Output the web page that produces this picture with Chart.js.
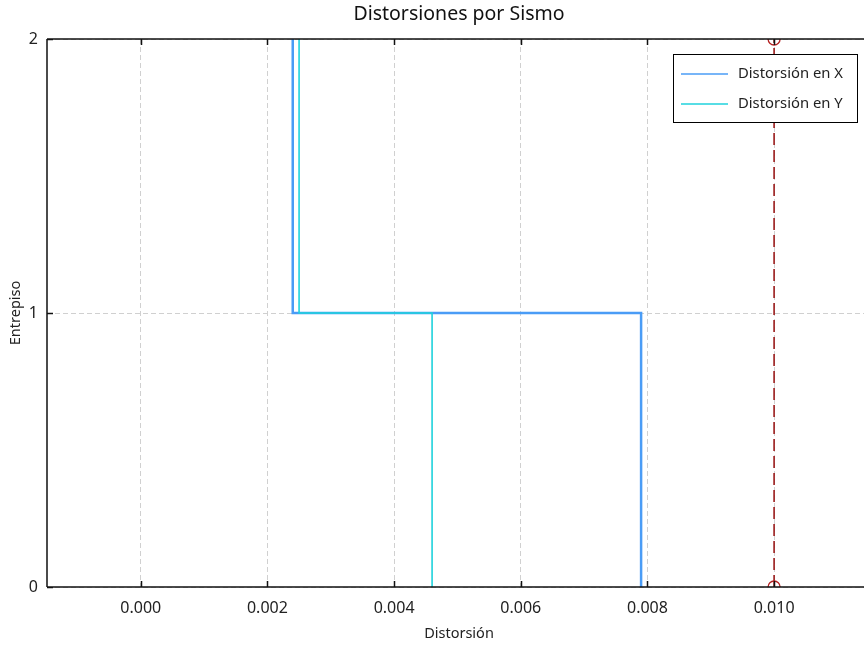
<!DOCTYPE html>
<html>
<head>
<meta charset="utf-8">
<script src="https://cdn.jsdelivr.net/npm/chart.js@4"></script>
<style>
  html, body { margin: 0; padding: 0; background: #fff; overflow: hidden; }
  #wrap { width: 864px; height: 645px; overflow: hidden; }
  canvas { display: block; }
</style>
</head>
<body>
<div id="wrap"><canvas id="c" width="880" height="645"></canvas></div>
<script>
// Story levels (0 = base) and the drift of each story (story i spans level i to i+1)
const levels = [0, 1, 2];
const driftX = [0.0079, 0.0024];
const driftY = [0.0046, 0.0025];
// Allowable drift limit
const driftLimit = 0.010;

const xTickValues = [0.000, 0.002, 0.004, 0.006, 0.008, 0.010];
const yTickValues = [0, 1, 2];
const xMin = -0.00148, xMax = 0.01153;

// Build a stepped profile: vertical segment per story, joined horizontally at each floor
function stepProfile(drifts) {
  const pts = [];
  for (let i = drifts.length - 1; i >= 0; i--) {
    pts.push({ x: drifts[i], y: levels[i + 1] });
    pts.push({ x: drifts[i], y: levels[i] });
  }
  return pts;
}

const FONT = "'Noto Sans', 'DejaVu Sans', sans-serif";
const TXT = '#222';

// Outer frame lines, inward tick marks and the boxed legend
const framePlugin = {
  id: 'frame',
  afterDatasetsDraw(chart) {
    const { ctx, chartArea: a, scales } = chart;
    ctx.save();
    ctx.strokeStyle = '#111';
    ctx.lineWidth = 1.5;
    ctx.beginPath();
    ctx.moveTo(a.left, a.top); ctx.lineTo(a.right + 2, a.top);
    ctx.moveTo(a.left, a.top); ctx.lineTo(a.left, a.bottom);
    ctx.moveTo(a.left, a.bottom); ctx.lineTo(a.right + 2, a.bottom);
    const tl = 6;
    xTickValues.forEach(v => {
      const px = Math.round(scales.x.getPixelForValue(v)) + 0.5;
      ctx.moveTo(px, a.bottom); ctx.lineTo(px, a.bottom - tl);
      ctx.moveTo(px, a.top); ctx.lineTo(px, a.top + tl);
    });
    yTickValues.forEach(v => {
      const py = Math.round(scales.y.getPixelForValue(v)) + 0.5;
      ctx.moveTo(a.left, py); ctx.lineTo(a.left + tl, py);
    });
    ctx.stroke();
    ctx.restore();
  },
  afterDraw(chart) {
    const { ctx, chartArea: a } = chart;
    const items = chart.data.datasets.filter(d => d.label);
    const w = 184, h = 68;
    const x0 = a.right - 14 - w, y0 = a.top + 15;
    ctx.save();
    ctx.fillStyle = '#fff';
    ctx.fillRect(x0, y0, w, h);
    ctx.strokeStyle = '#000';
    ctx.lineWidth = 1;
    ctx.strokeRect(x0 + 0.5, y0 + 0.5, w, h);
    ctx.font = '14.8px ' + FONT;
    ctx.textBaseline = 'middle';
    items.forEach((d, i) => {
      const yy = y0 + 20 + i * 30;
      ctx.strokeStyle = d.borderColor;
      ctx.lineWidth = 1.5;
      ctx.beginPath();
      ctx.moveTo(x0 + 8, yy); ctx.lineTo(x0 + 55, yy);
      ctx.stroke();
      ctx.fillStyle = TXT;
      ctx.fillText(d.label, x0 + 65, yy);
    });
    ctx.restore();
  }
};

new Chart(document.getElementById('c'), {
  type: 'scatter',
  data: {
    datasets: [
      {
        label: 'Distorsión en X',
        data: stepProfile(driftX),
        showLine: true,
        borderColor: '#4a9cf6',
        backgroundColor: '#4a9cf6',
        borderWidth: 2.5,
        pointRadius: 0,
        order: 2
      },
      {
        label: 'Distorsión en Y',
        data: stepProfile(driftY),
        showLine: true,
        borderColor: '#1fd2dc',
        backgroundColor: '#1fd2dc',
        borderWidth: 1.6,
        pointRadius: 0,
        order: 1
      },
      {
        label: '',
        data: [{ x: driftLimit, y: levels[0] }, { x: driftLimit, y: levels[levels.length - 1] }],
        showLine: true,
        borderColor: '#9b1c1c',
        borderWidth: 1.6,
        borderDash: [12, 5],
        pointRadius: 6,
        pointStyle: 'circle',
        pointBorderColor: '#b52222',
        pointBackgroundColor: 'rgba(0,0,0,0)',
        pointBorderWidth: 1.3,
        order: 0
      }
    ]
  },
  options: {
    responsive: false,
    animation: false,
    events: [],
    layout: { padding: { left: 0, right: 9, top: 0, bottom: 0 } },
    plugins: {
      legend: { display: false },
      tooltip: { enabled: false },
      title: {
        display: true,
        text: 'Distorsiones por Sismo',
        fullSize: false,
        color: '#111',
        font: { family: FONT, size: 19.5, weight: 'normal', lineHeight: 1.2 },
        padding: { top: 3, bottom: 12.6 }
      }
    },
    scales: {
      x: {
        type: 'linear',
        min: xMin,
        max: xMax,
        afterBuildTicks: s => { s.ticks = xTickValues.map(v => ({ value: v })); },
        afterFit: s => { s.height = 58; },
        grid: { color: '#d0d0d0', lineWidth: 1, drawTicks: false },
        border: { display: false, dash: [5, 3] },
        ticks: {
          padding: 12,
          color: TXT,
          font: { family: FONT, size: 16 },
          maxRotation: 0,
          callback: v => Number(v).toFixed(3)
        },
        title: {
          display: true,
          text: 'Distorsión',
          color: TXT,
          font: { family: FONT, size: 14.5 },
          padding: { top: 0, bottom: 2 }
        }
      },
      y: {
        type: 'linear',
        min: 0,
        max: 2,
        afterBuildTicks: s => { s.ticks = yTickValues.map(v => ({ value: v })); },
        afterFit: s => { s.width = 47; },
        grid: { color: '#d0d0d0', lineWidth: 1, drawTicks: false },
        border: { display: false, dash: [5, 3] },
        ticks: {
          padding: 9,
          color: TXT,
          font: { family: FONT, size: 16 },
          callback: v => String(v)
        },
        title: {
          display: true,
          text: 'Entrepiso',
          color: TXT,
          font: { family: FONT, size: 14.5 },
          padding: { top: 7, bottom: 0 }
        }
      }
    }
  },
  plugins: [framePlugin]
});
</script>
</body>
</html>
